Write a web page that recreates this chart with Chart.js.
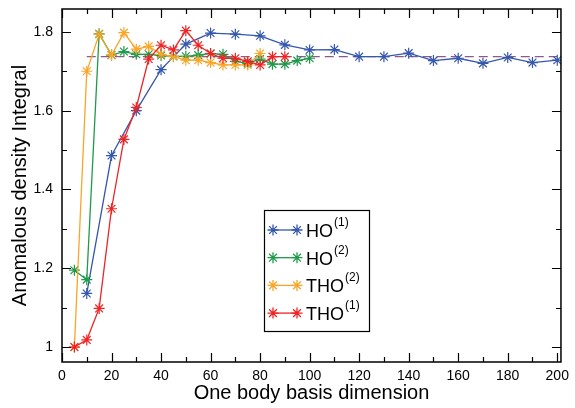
<!DOCTYPE html>
<html>
<head>
<meta charset="utf-8">
<script src="https://cdn.jsdelivr.net/npm/chart.js@4/dist/chart.umd.min.js"></script>
<style>
  html, body { margin: 0; padding: 0; background: #fff; }
  #wrap { width: 575px; height: 408px; }
</style>
</head>
<body>
<div id="wrap"><canvas id="chart" width="575" height="408"></canvas></div>
<script>
// data
const hoOneX = [10, 20, 30, 40, 50, 60, 70, 80, 90, 100, 110, 120, 130, 140, 150, 160, 170, 180, 190, 200];
const hoOneY = [1.136, 1.486, 1.600, 1.704, 1.769, 1.797, 1.794, 1.790, 1.767, 1.754, 1.755, 1.737, 1.737, 1.746, 1.727, 1.733, 1.720, 1.735, 1.722, 1.728];

const hoTwoX = [5, 10, 15, 20, 25, 30, 35, 40, 45, 50, 55, 60, 65, 70, 75, 80, 85, 90, 95, 100];
const hoTwoY = [1.195, 1.171, 1.795, 1.741, 1.750, 1.743, 1.743, 1.740, 1.738, 1.738, 1.741, 1.745, 1.743, 1.725, 1.720, 1.731, 1.718, 1.718, 1.727, 1.733];

const thoTwoX = [5, 10, 15, 20, 25, 30, 35, 40, 45, 50, 55, 60, 65, 70, 75, 80];
const thoTwoY = [1.000, 1.700, 1.794, 1.741, 1.798, 1.756, 1.763, 1.743, 1.737, 1.728, 1.728, 1.722, 1.716, 1.716, 1.716, 1.745];

const thoOneX = [5, 10, 15, 20, 25, 30, 35, 40, 45, 50, 55, 60, 65, 70, 75, 80, 85, 90];
const thoOneY = [1.000, 1.018, 1.098, 1.351, 1.527, 1.608, 1.731, 1.766, 1.754, 1.803, 1.766, 1.745, 1.733, 1.733, 1.725, 1.716, 1.737, 1.737];

const refX = [10, 200];
const refY = [1.737, 1.737];

const xMajor = [0, 20, 40, 60, 80, 100, 120, 140, 160, 180, 200];
const xMinor = [10, 30, 50, 70, 90, 110, 130, 150, 170, 190];
const yMajor = [1, 1.2, 1.4, 1.6, 1.8];
const yMinor = [1.1, 1.3, 1.5, 1.7];

const legendItems = [
    { name: 'HO', sup: '(1)', color: '#3557ac' },
    { name: 'HO', sup: '(2)', color: '#1f9a4a' },
    { name: 'THO', sup: '(2)', color: '#f9a527' },
    { name: 'THO', sup: '(1)', color: '#ee2424' }
];

const FONT = '"Liberation Sans", Arial, sans-serif';

function pts(xs, ys) {
    return xs.map((x, i) => ({ x: x, y: ys[i] }));
}

function series(label, xs, ys, color, order) {
    return {
        label: label,
        data: pts(xs, ys),
        borderColor: color,
        backgroundColor: color,
        borderWidth: 1.3,
        pointStyle: 'star',
        pointRadius: 5.5,
        pointBorderWidth: 1.2,
        pointBorderColor: color,
        order: order
    };
}

// inward ticks + full frame, like the original plot
const framePlugin = {
    id: 'frame',
    afterDraw(chart) {
        const ctx = chart.ctx;
        const a = chart.chartArea;
        const xs = chart.scales.x, ys = chart.scales.y;
        ctx.save();
        ctx.strokeStyle = '#000';
        ctx.lineWidth = 1.2;
        ctx.beginPath();
        const tick = (vals, len) => {
            vals.forEach(v => {
                const px = Math.round(xs.getPixelForValue(v)) + 0.5;
                ctx.moveTo(px, a.bottom); ctx.lineTo(px, a.bottom - len);
                ctx.moveTo(px, a.top); ctx.lineTo(px, a.top + len);
            });
        };
        const tickY = (vals, len) => {
            vals.forEach(v => {
                const py = Math.round(ys.getPixelForValue(v)) + 0.5;
                ctx.moveTo(a.left, py); ctx.lineTo(a.left + len, py);
                ctx.moveTo(a.right, py); ctx.lineTo(a.right - len, py);
            });
        };
        tick(xMajor, 9); tick(xMinor, 5);
        tickY(yMajor, 9); tickY(yMinor, 5);
        ctx.stroke();
        ctx.lineWidth = 1.5;
        ctx.strokeRect(a.left, a.top, a.right - a.left, a.bottom - a.top);
        ctx.restore();
    }
};

// boxed legend inside the plot
const legendPlugin = {
    id: 'boxLegend',
    afterDraw(chart) {
        const ctx = chart.ctx;
        const left = 264, top = 210, w = 105, h = 121;
        ctx.save();
        ctx.fillStyle = '#fff';
        ctx.fillRect(left, top, w, h);
        ctx.strokeStyle = '#000';
        ctx.lineWidth = 1.2;
        ctx.strokeRect(left + 0.5, top + 0.5, w, h);
        legendItems.forEach((it, i) => {
            const y = 230 + i * 27.7;
            ctx.strokeStyle = it.color;
            ctx.lineWidth = 1.3;
            ctx.beginPath();
            ctx.moveTo(273, y); ctx.lineTo(297, y);
            ctx.stroke();
            [273, 297].forEach(px => {
                Chart.helpers.drawPoint(ctx, { pointStyle: 'star', radius: 5.5, borderWidth: 1.2 }, px, y);
            });
            ctx.fillStyle = '#000';
            ctx.textBaseline = 'alphabetic';
            ctx.textAlign = 'left';
            ctx.font = '18px ' + FONT;
            ctx.fillText(it.name, 306, y + 7);
            const wName = ctx.measureText(it.name).width;
            ctx.font = '12px ' + FONT;
            ctx.fillText(it.sup, 307 + wName, y - 4);
        });
        ctx.restore();
    }
};

const chart = new Chart(document.getElementById('chart').getContext('2d'), {
    type: 'line',
    data: {
        datasets: [
            series('THO(1)', thoOneX, thoOneY, legendItems[3].color, 0),
            series('THO(2)', thoTwoX, thoTwoY, legendItems[2].color, 1),
            series('HO(2)', hoTwoX, hoTwoY, legendItems[1].color, 2),
            series('HO(1)', hoOneX, hoOneY, legendItems[0].color, 3),
            {
                label: 'ref',
                data: pts(refX, refY),
                borderColor: '#8c5a8c',
                borderWidth: 1.3,
                borderDash: [9, 5],
                pointRadius: 0,
                order: 4
            }
        ]
    },
    options: {
        responsive: false,
        animation: false,
        layout: { padding: { top: 0, right: 9, left: 0, bottom: 0 } },
        plugins: {
            legend: { display: false },
            tooltip: { enabled: false }
        },
        scales: {
            x: {
                type: 'linear',
                min: 0,
                max: 201.5,
                grid: { display: false, drawTicks: false },
                border: { display: false },
                afterFit: s => { s.height = 46; },
                afterBuildTicks: s => { s.ticks = xMajor.map(v => ({ value: v })); },
                ticks: {
                    color: '#000',
                    padding: 6,
                    maxRotation: 0,
                    autoSkip: false,
                    font: { family: FONT, size: 14 }
                },
                title: {
                    display: true,
                    text: 'One body basis dimension',
                    color: '#000',
                    padding: { top: 0, bottom: 3 },
                    font: { family: FONT, size: 20 }
                }
            },
            y: {
                type: 'linear',
                min: 0.962,
                max: 1.858,
                grid: { display: false, drawTicks: false },
                border: { display: false },
                afterFit: s => { s.width = 62; s.paddingTop = 9; },
                afterBuildTicks: s => { s.ticks = yMajor.map(v => ({ value: v })); },
                ticks: {
                    color: '#000',
                    padding: 9,
                    autoSkip: false,
                    font: { family: FONT, size: 14 },
                    callback: v => (Math.round(v * 10) / 10).toString()
                },
                title: {
                    display: true,
                    text: 'Anomalous density Integral',
                    color: '#000',
                    padding: { top: 8, bottom: 0 },
                    font: { family: FONT, size: 20 }
                }
            }
        }
    },
    plugins: [framePlugin, legendPlugin]
});
</script>
</body>
</html>
